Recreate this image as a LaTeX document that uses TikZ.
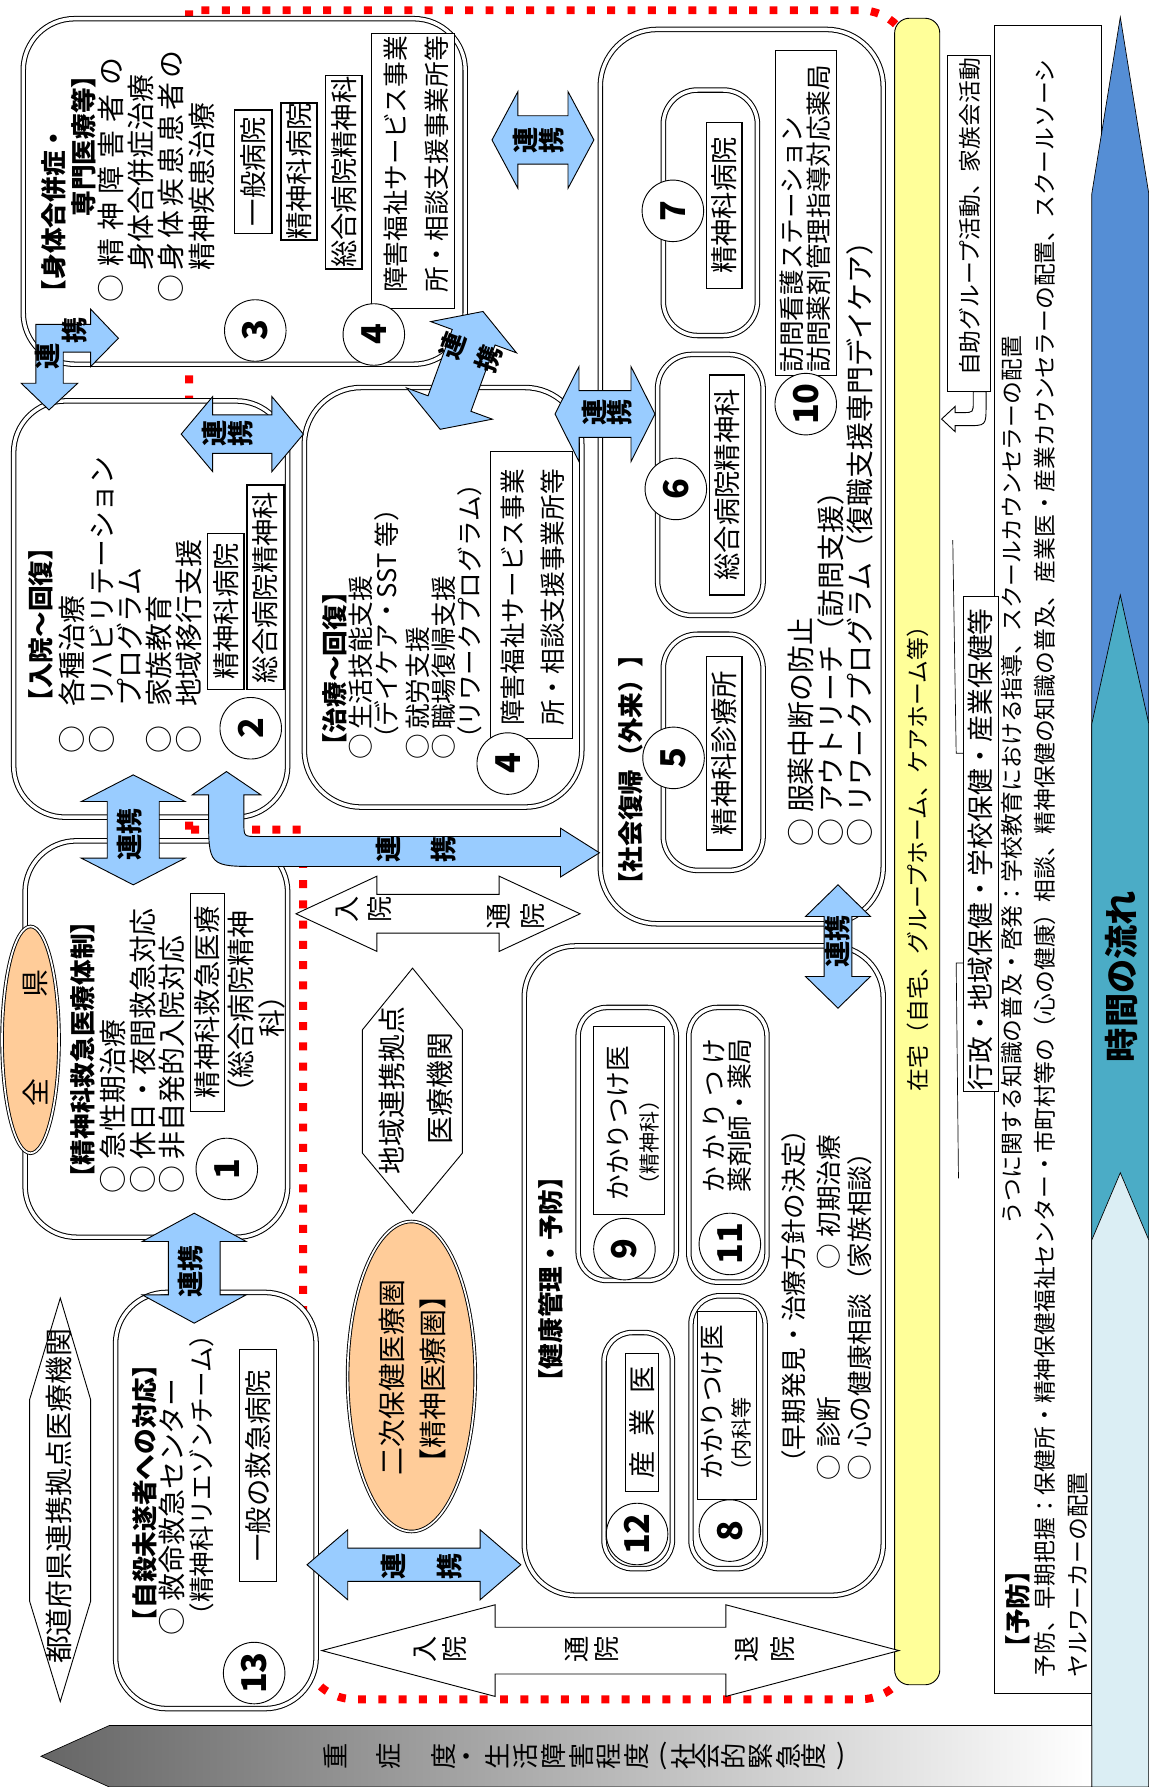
\documentclass[tikz,border=0pt]{standalone}
\usepackage{fontspec}
\setmainfont{Noto Sans CJK JP}
\usetikzlibrary{shapes.geometric}

\definecolor{linkblue}{HTML}{99CCFF}
\definecolor{orng}{HTML}{FFCC99}
\definecolor{ylw}{HTML}{FFFF99}
\definecolor{tblue}{HTML}{558ED5}
\definecolor{tteal}{HTML}{4BACC6}
\definecolor{tpale}{HTML}{DBEEF4}

\tikzstyle{txt} = [rotate=90, anchor=west, inner sep=0pt, font=\fontsize{24.5}{24.5}\selectfont]
\tikzstyle{mid} = [txt, font=\fontsize{22.5}{22.5}\selectfont]
\tikzstyle{sml} = [txt, font=\fontsize{20}{20}\selectfont]
\tikzstyle{tny} = [txt, font=\fontsize{18.5}{18.5}\selectfont]
\tikzstyle{ttl} = [txt, font=\bfseries\fontsize{22.5}{22.5}\selectfont]
\tikzstyle{lbl} = [rotate=90, draw, line width=1.1pt, fill=white, inner sep=0pt, font=\fontsize{24}{24}\selectfont]
\tikzstyle{num} = [circle, draw, line width=0.8pt, fill=white, minimum size=54pt, inner sep=0pt, rotate=90, font=\bfseries\fontsize{30}{30}\selectfont]
\tikzstyle{panel} = [draw, double, double distance=3pt, line width=0.9pt, fill=white]
\tikzstyle{linkarr} = [draw, line width=0.8pt, fill=linkblue]
\tikzstyle{hollow} = [draw, line width=0.8pt, fill=white]
\tikzstyle{ren} = [rotate=90, inner sep=0pt, font=\bfseries\fontsize{23}{23}\selectfont]
\tikzset{pair/.style={ren, align=center, font=\bfseries\fontsize{23}{#1}\selectfont},
  wpair/.style={pair=#1, font=\fontsize{23}{#1}\selectfont}}

\newcommand{\harrow}[7][linkarr]{\draw[#1] (#2,#4) -- (#2+#7,#4-#5) -- (#2+#7,#4-#6) -- (#3-#7,#4-#6) -- (#3-#7,#4-#5) -- (#3,#4) -- (#3-#7,#4+#5) -- (#3-#7,#4+#6) -- (#2+#7,#4+#6) -- (#2+#7,#4+#5) -- cycle;}
\newcommand{\varrow}[7][linkarr]{\draw[#1] (#4,#2) -- (#4+#5,#2+#7) -- (#4+#6,#2+#7) -- (#4+#6,#3-#7) -- (#4+#5,#3-#7) -- (#4,#3) -- (#4-#5,#3-#7) -- (#4-#6,#3-#7) -- (#4-#6,#2+#7) -- (#4-#5,#2+#7) -- cycle;}

\begin{document}
\begin{tikzpicture}[x=1pt, y=-1pt]
\useasboundingbox (0,0) rectangle (1008,1568);
\fill[white] (0,0) rectangle (1008,1568);

\draw[red, line width=7pt, dash pattern=on 7pt off 10.8pt] (166,728) -- (166,9) [rounded corners=45] -- (800,9) -- (800,1491) -- (266,1491) [sharp corners] -- (266,728) -- cycle;

\draw[line width=0.8pt, fill=white] (872.3,22) rectangle (966.8,1485.6);
\filldraw[fill=tblue, line width=0.6pt] (958,1568) -- (958,170) -- (983,15) -- (1008,170) -- (1008,1568) -- cycle;
\filldraw[fill=tteal, line width=0.6pt] (958,1568) -- (958,635) -- (983,522) -- (1008,635) -- (1008,1568) -- cycle;
\filldraw[fill=tpale, line width=0.6pt] (958,1568) -- (958,1088) -- (983,1029) -- (1008,1088) -- (1008,1568) -- cycle;
\shadedraw[left color=black!60, right color=white, line width=0.6pt] (958,1514) -- (96,1514) -- (36,1541) -- (96,1568) -- (958,1568) -- cycle;
\draw[fill=ylw, line width=0.8pt, rounded corners=13] (785,16) rectangle (824.6,1478.3);
\draw[line width=0.8pt, fill=white] (831,49) rectangle (869.4,343.6);
\draw[line width=0.8pt, fill=white] (845.7,523.5) rectangle (876.5,957.7);
\draw[line width=0.6pt] (836,474) -- (839,661) -- (845.7,661);
\draw[line width=0.6pt] (845.7,845) -- (839,845) -- (841,1034);
\draw[hollow] (854,343.6) -- (854,352) .. controls (854,362) .. (845,362) -- (838,362) -- (838,356.7) -- (826.2,367.7) -- (838,378.7) -- (838,373.5) -- (848,373.5) .. controls (865.2,373.5) .. (865.2,356) -- (865.2,343.6) -- cycle;

\draw[panel, rounded corners=45] (20.4,16.4) rectangle (408.2,319.6);
\draw[panel, rounded corners=45] (12,351.8) rectangle (252.4,717);
\draw[panel, rounded corners=50] (267,340) rectangle (510.5,708.2);
\draw[panel, rounded corners=45] (22,737.8) rectangle (252.4,1085.6);
\draw[panel, rounded corners=45] (101.4,1134) rectangle (277.4,1499.2);
\draw[panel, rounded corners=50] (526.7,25.8) rectangle (775,810.6);
\draw[panel, rounded corners=45] (460,830) rectangle (775,1399.8);
\draw[panel, rounded corners=30] (582,79) rectangle (664.6,294.4);
\draw[panel, rounded corners=30] (577,311) rectangle (669.6,540);
\draw[panel, rounded corners=30] (582,556.5) rectangle (669.6,763.7);
\draw[panel, rounded corners=25] (507.3,884) rectangle (593.4,1123.5);
\draw[panel, rounded corners=25] (604.4,884) rectangle (673,1125);
\draw[panel, rounded corners=25] (530,1169.2) rectangle (590,1376.4);
\draw[panel, rounded corners=25] (606.3,1137) rectangle (671.3,1376.4);

\draw[hollow] (362,849.5) -- (405.7,903.6) -- (405.7,1011.8) -- (362,1064.5) -- (318,1011.8) -- (318,903.6) -- cycle;
\draw[hollow] (52.9,1139) -- (79.5,1228) -- (79.5,1405) -- (52.9,1493) -- (26,1405) -- (26,1228) -- cycle;
\node (zen) [ellipse, draw, double, double distance=1.5pt, line width=0.8pt, fill=orng, minimum width=199pt, minimum height=50pt, inner sep=0pt, rotate=90] at (26.8,912.4) {};
\node (niji) [ellipse, draw, double, double distance=1.5pt, line width=0.8pt, fill=orng, minimum width=272pt, minimum height=112pt, inner sep=0pt, rotate=90] at (361,1207.8) {};

\draw[line width=0.8pt, fill=white] (326,29) rectangle (398.6,270.5);
\draw[line width=0.8pt, fill=white] (430,396.2) rectangle (502.5,647.7);
\draw[line width=0.8pt, fill=white] (680,43.9) rectangle (733.7,329.8);
\draw[line width=0.8pt, fill=white] (521,900.7) rectangle (582.8,1066);
\draw[line width=0.8pt, fill=white] (612,1150.7) rectangle (664,1316);

\node (h3a) [lbl, minimum width=108pt, minimum height=32.6pt] at (222.3,150.6) {一般病院};
\node (h3b) [lbl, line width=1.8pt, minimum width=121pt, minimum height=31.8pt] at (262.6,150.5) {精神科病院};
\node (h3c) [lbl, minimum width=170pt, minimum height=31.9pt] at (301.6,151) {総合病院精神科};
\node (h2a) [lbl, minimum width=137.4pt, minimum height=32.4pt] at (198,536.6) {精神科病院};
\node (h2b) [lbl, minimum width=179.8pt, minimum height=32.5pt] at (233,515.4) {総合病院精神科};
\node (h1) [lbl, minimum width=191.6pt, minimum height=29.8pt] at (182.1,879.5) {精神科救急医療};
\node (h13) [lbl, minimum width=203.2pt, minimum height=32.5pt] at (226.5,1286) {一般の救急病院};
\node (h7) [lbl, minimum width=145.4pt, minimum height=31pt] at (635.5,180.3) {精神科病院};
\node (h6) [lbl, minimum width=193pt, minimum height=30.5pt] at (638,425.5) {総合病院精神科};
\node (h5) [lbl, minimum width=169.7pt, minimum height=31pt] at (635.5,660.9) {精神科診療所};
\node (h12) [lbl, minimum width=121.3pt, minimum height=29.2pt] at (563.3,1248) {\makebox[98pt][s]{産 業 医}};

\node (c3) [num] at (224,290) {3};
\node (c4a) [num] at (328,293.5) {4};
\node (c2) [num] at (220,639) {2};
\node (c4b) [num] at (445.5,670) {4};
\node (c1) [num] at (199,1025.7) {1};
\node (c13) [num] at (223,1468) {13};
\node (c7) [num] at (590.4,185) {7};
\node (c6) [num] at (593,429) {6};
\node (c5) [num] at (591,665) {5};
\node (c10) [num] at (707,354.6) {10};
\node (c9) [num] at (547.9,1096) {9};
\node (c11) [num] at (640.4,1091.5) {11};
\node (c12) [num] at (559,1346) {12};
\node (c8) [num] at (640.4,1343) {8};

\harrow{431.7}{521.1}{122.8}{42.4}{21.2}{22.7}
\harrow{159}{266.2}{380.9}{32.9}{16.9}{27.6}
\harrow{487}{574.7}{363.3}{41.6}{20.5}{21}
\varrow{679.9}{776.4}{116.9}{45.5}{22.8}{23.4}
\varrow{1064.5}{1161}{170.4}{45.5}{22.7}{24.8}
\harrow{269.4}{457}{1373}{30.7}{14.6}{35.7}
\varrow{776.4}{884.6}{735.3}{28.5}{12.2}{27.8}
\harrow[hollow]{259.7}{509}{801.8}{33}{17}{71}
\harrow[hollow]{282.4}{788.9}{1448.3}{40.2}{20.5}{152}
\draw[linkarr] (43,359.7) -- (68.2,336.3) -- (55.5,336.3) -- (55.5,309) -- (79.5,309) -- (79.5,321.7) -- (103.9,296.8) -- (79.5,271.2) -- (79.5,284.6) -- (31.5,284.6) -- (31.5,336.3) -- (18.6,336.3) -- cycle;
\draw[linkarr] (423.8,273.3) -- (453.2,309.6) -- (434.4,302.7) -- (413.2,360.9) -- (432,367.8) -- (386.2,376.7) -- (356.8,340.4) -- (375.6,347.3) -- (396.8,289.1) -- (378,282.2) -- cycle;
\draw[linkarr] (198.7,677) -- (228.8,697.4) -- (214,697.4) -- (214,722) .. controls (214,734) .. (226,734) -- (491.8,734) -- (491.8,726.7) -- (526,748.3) -- (491.8,769.5) -- (491.8,760.3) -- (228,760.3) .. controls (183,760.3) .. (183,715) -- (183,697.4) -- (168.8,697.4) -- cycle;

\node (r1) [pair=22.7pt] at (472.4,122.8) {連\\携};
\node (r2) [pair=22.7pt] at (199.7,380) {連\\携};
\node (r3) [pair=22pt] at (532.5,362) {連\\携};
\node (r4) [ren] at (113.6,732) {連携};
\node (r5) [ren] at (167.2,1115.7) {連携};
\node (r6) [ren] at (735.3,826) {連携};
\node (r7) [pair=48.7pt] at (365.2,745.7) {連\\携};
\node (r8) [pair=48.7pt] at (370,1374.5) {連\\携};
\node (r9a) [ren] at (42,313) {連};
\node (r9b) [ren] at (65,289.5) {携};
\node (r10) [pair=33pt, rotate=-20] at (413,309) {連\\携};
\node (w1) [wpair=29pt] at (319.5,798.3) {入\\院};
\node (w2) [wpair=29.4pt] at (452.7,804.2) {通\\院};
\node (w3) [wpair=26pt] at (386.3,1447.6) {入\\院};
\node (w4) [wpair=26pt] at (519.5,1447.6) {通\\院};
\node (w5) [wpair=30.8pt] at (671.2,1447.6) {退\\院};

\node (s1) [ttl] at (47,268) {【身体合併症・};
\node (s2) [ttl] at (73,190) {専門医療等】};
\node (s3) [txt] at (97.4,266) {\makebox[215pt][s]{○ 精 神 障 害 者 の}};
\node (s4) [txt] at (123.3,237.5) {身体合併症治療};
\node (s5) [txt] at (150,266) {\makebox[215pt][s]{○ 身 体 疾 患 患 者 の}};
\node (s6) [txt] at (177,237.5) {精神疾患治療};
\node (s7) [mid] at (347,257) {障害福祉サービス事業};
\node (s8) [mid] at (383,257) {所・相談支援事業所等};

\node (n1) [ttl] at (35.7,627) {【入院～回復】};
\node (n2) [txt] at (63.3,661) {○\hspace{16pt}各種治療};
\node (n3) [txt] at (89.3,661) {○\hspace{16pt}リハビリテーション};
\node (n4) [txt] at (113.6,620) {プログラム};
\node (n5) [txt] at (139.6,661) {○\hspace{16pt}家族教育};
\node (n6) [txt] at (165.5,661) {○\hspace{16pt}地域移行支援};

\node (k1) [ttl] at (293.8,666) {【治療～回復】};
\node (k2) [mid] at (316.5,667) {○\hspace{4pt}生活技能支援};
\node (k3) [mid] at (339.2,660) {（デイケア・SST 等）};
\node (k4) [mid] at (366.8,667) {○\hspace{4pt}就労支援};
\node (k5) [mid] at (389.5,667) {○\hspace{4pt}職場復帰支援};
\node (k6) [mid] at (412.2,660) {（リワークプログラム）};
\node (k7) [mid] at (449.6,637) {障害福祉サービス事業};
\node (k8) [mid] at (485.3,637) {所・相談支援事業所等};

\node (e1) [ttl] at (73,1045) {【精神科救急医療体制】};
\node (e2) [txt] at (99,1047) {○\hspace{5pt}急性期治療};
\node (e3) [txt] at (125,1047) {○\hspace{5pt}休日・夜間救急対応};
\node (e4) [txt] at (151,1047) {○\hspace{5pt}非自発的入院対応};
\node (e5) [txt] at (211,971) {（総合病院精神};
\node (e6) [txt, anchor=center] at (238.6,886) {科）};
\node (zt) [txt, anchor=center] at (30.8,959) {全};
\node (zb) [txt, anchor=center] at (30.8,862.7) {県};

\node (j1) [ttl] at (126.6,1434) {【自殺未遂者への対応】};
\node (j2) [txt] at (151,1435) {○\hspace{5pt}救命救急センター};
\node (j3) [mid] at (177,1429) {（精神科リエゾンチーム）};
\node (p1) [txt, anchor=center] at (52,1313) {都道府県連携拠点医療機関};
\node (p2) [txt, anchor=center] at (344,1208.5) {二次保健医療圏};
\node (p3) [txt, anchor=center] at (379.8,1210) {【精神医療圏】};
\node (p4) [txt, anchor=center] at (344,957) {地域連携拠点};
\node (p5) [txt, anchor=center] at (386.3,955) {医療機関};

\node (f1) [ttl] at (553.6,788) {【社会復帰（外来）】};
\node (f2) [txt] at (702.9,743) {○\hspace{5pt}服薬中断の防止};
\node (f3) [txt] at (728.8,743) {○\hspace{5pt}アウトリーチ（訪問支援）};
\node (f4) [txt] at (754.8,743) {○\hspace{5pt}リワークプログラム（復職支援専門デイケア）};
\node (f5) [mid] at (694.8,327) {訪問看護ステーション};
\node (f6) [mid] at (718,327) {訪問薬剤管理指導対応薬局};

\node (y1) [ttl] at (483.6,1224) {【健康管理・予防】};
\node (y2) [mid] at (542.2,1053.5) {かかりつけ医};
\node (y3) [tny] at (569.8,1049) {（精神科）};
\node (y4) [mid] at (626.6,1046.5) {\makebox[135pt][s]{か か り つ け}};
\node (y5) [mid] at (649.3,1046.5) {薬剤師・薬局};
\node (y6) [mid] at (625,1298) {かかりつけ医};
\node (y7) [tny] at (651,1300) {（内科等};
\node (y8) [mid] at (696.4,1295) {（早期発見・治療方針の決定）};
\node (y9) [mid] at (727.2,1299) {○\hspace{6pt}診断};
\node (y10) [mid] at (727.2,1114.5) {○\hspace{6pt}初期治療};
\node (y11) [mid] at (754.8,1299) {○\hspace{6pt}心の健康相談（家族相談）};

\node (home) [sml] at (805,957.5) {在宅（自宅、グループホーム、ケアホーム等）};
\node (self) [sml] at (850.6,330) {自助グループ活動、家族会活動};
\node (gov) [txt, font=\fontsize{23.5}{23.5}\selectfont] at (860.3,957) {行政・地域保健・学校保健・産業保健等};
\node (v1) [ttl] at (892.8,1457) {【予防】};
\node (v2) [sml] at (888,1074.5) {うつに関する知識の普及・啓発：学校教育における指導、スクールカウンセラーの配置};
\node (v3) [sml] at (917.1,1472) {予防、早期把握：保健所・精神保健福祉センター・市町村等の（心の健康）相談、精神保健の知識の普及、産業医・産業カウンセラーの配置、スクールソーシ};
\node (v4) [sml] at (946.3,1472) {ヤルワーカーの配置};

\node (time) [rotate=90, inner sep=0pt, font=\bfseries\fontsize{30}{30}\selectfont] at (983.6,857) {時間の流れ};
\foreach \ch/\x [count=\i] in {重/293.8, 症/340.8, 度/389.5, ・/412.2, 生/436.6, 活/461, 障/486, 害/510, 程/534, 度/558.4, 社/600, 会/621, 的/643, 緊/668, 急/691.5, 度/714.2}
  \node (g\i) [rotate=90, inner sep=0pt, font=\fontsize{23}{23}\selectfont] at (\x,1541) {\ch};
\node (gl) [inner sep=0pt, font=\fontsize{24}{24}\selectfont] at (582,1541) {(};
\node (gr) [inner sep=0pt, font=\fontsize{24}{24}\selectfont] at (738,1541) {)};
\end{tikzpicture}
\end{document}
